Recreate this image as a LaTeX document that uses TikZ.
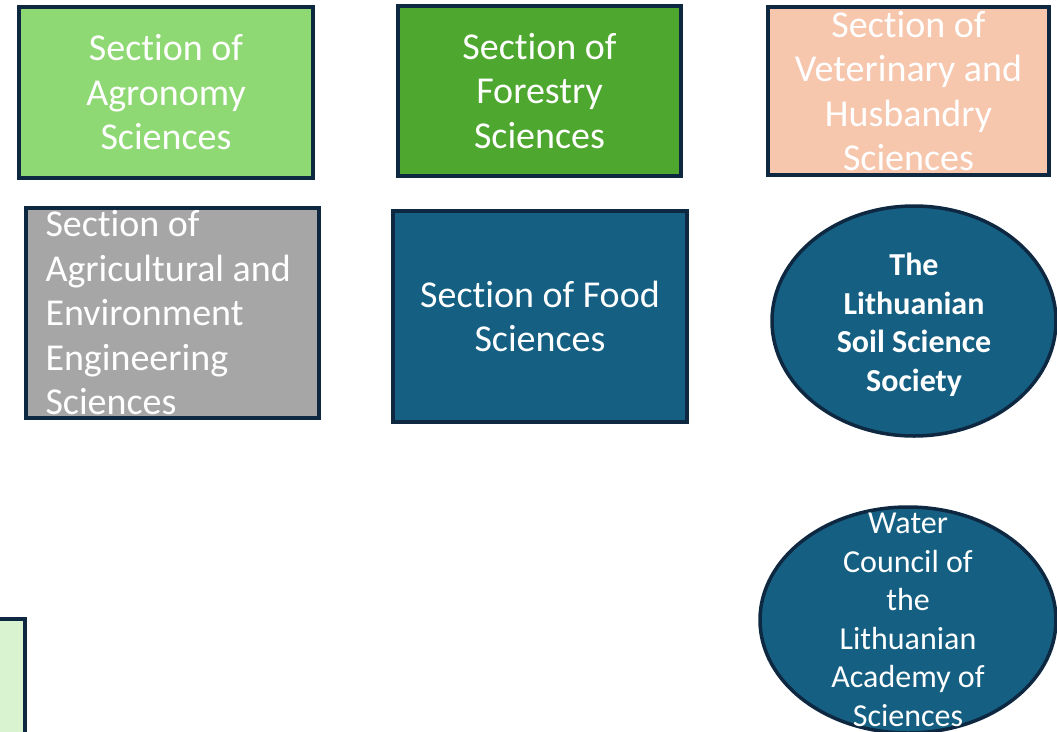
\documentclass[tikz,border=0pt]{standalone}
\usepackage{fontspec}
\setmainfont[Ligatures={NoCommon}]{Carlito}
\usepackage{xcolor}
\definecolor{lightgreen}{HTML}{8ED973}
\definecolor{forest}{HTML}{4EA72E}
\definecolor{peach}{HTML}{F6C6AD}
\definecolor{midgray}{HTML}{A6A6A6}
\definecolor{deepblue}{HTML}{156082}
\definecolor{outline}{HTML}{0E2841}
\definecolor{palegreen}{HTML}{D9F2D0}
\usetikzlibrary{positioning, shapes.geometric}
\tikzstyle{Section} = [
draw=outline,
line width=3.8pt,
rectangle,
inner sep=0pt]
\tikzstyle{Society} = [
draw=outline,
line width=3.5pt,
ellipse,
fill=deepblue,
inner sep=0pt]
\tikzstyle{Caption} = [
text=white,
inner sep=0pt,
align=center,
font=\fontsize{38}{44.5}\selectfont]
\tikzstyle{Small} = [
text=white,
inner sep=0pt,
align=center,
font=\fontsize{32}{38.5}\selectfont]

\begin{document}
\begin{tikzpicture}[x=1pt, y=-1pt]
    \useasboundingbox (0,0) rectangle (1057,731);
    \node [Section, fill=lightgreen, minimum width=294pt, minimum height=171pt] (1) at (166,92.5) {};
    \node [Section, fill=forest, minimum width=283pt, minimum height=170pt] (2) at (539.5,91) {};
    \node [Section, fill=peach, minimum width=281pt, minimum height=168pt] (3) at (908.5,91) {};
    \node [Section, fill=midgray, minimum width=293pt, minimum height=210pt] (4) at (172.5,313) {};
    \node [Section, fill=deepblue, minimum width=294pt, minimum height=211pt] (5) at (540,316.5) {};
    \node [Society, minimum width=284pt, minimum height=230pt] (6) at (914,321) {};
    \node [Society, minimum width=296pt, minimum height=226pt] (7) at (908,620) {};
    \node [Section, fill=palegreen, minimum width=250pt, minimum height=200pt] (8) at (-100,719) {};

    \node [Caption] (1t) at (1) {Section of\\Agronomy\\Sciences};
    \node [Caption] (2t) at (2) {Section of\\Forestry\\Sciences};
    \node [Caption] (3t) at (3) {Section of\\Veterinary and\\Husbandry\\Sciences};
    \node [Caption, text width=254pt, align=flush left] (4t) at (4) {Section of\\Agricultural and\\Environment\\Engineering\\Sciences};
    \node [Caption] (5t) at (5) {Section of Food\\Sciences};
    \node [Small, font=\fontsize{32}{38.5}\selectfont\bfseries] (6t) at ([yshift=-4pt]6) {The\\Lithuanian\\Soil Science\\Society};
    \node [Small] (7t) at (7) {Water\\Council of\\the\\Lithuanian\\Academy of\\Sciences};
\end{tikzpicture}
\end{document}
